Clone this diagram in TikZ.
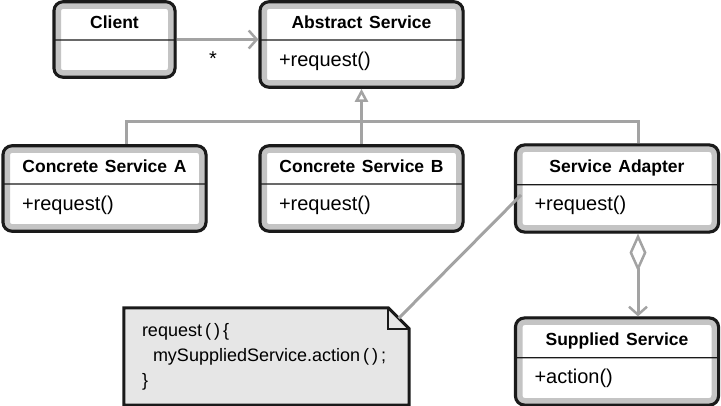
\documentclass[tikz,border=0pt]{standalone}
\usepackage{fontspec}
\setmainfont{Liberation Sans}
\usetikzlibrary{arrows.meta, positioning, calc, shapes.multipart, backgrounds}
\definecolor{umlLine}{HTML}{A3A3A3}
\definecolor{umlBand}{HTML}{C4C4C4}
\definecolor{umlNote}{HTML}{E6E6E6}
\definecolor{umlInk}{HTML}{1A1A1A}
\newcommand{\umltitle}[1]{\noindent\makebox[\hsize][c]{\fontsize{17.5}{22}\selectfont\bfseries #1\rule[-2pt]{0pt}{21pt}}}
\newcommand{\umlop}[1]{\noindent\hspace*{12pt}\rule[-13pt]{0pt}{30pt}#1}
\newcommand{\umlempty}{\noindent\rule[-3pt]{0pt}{20pt}}

\begin{document}
\begin{tikzpicture}[
  x=1pt, y=-1pt,
  every node/.style={font=\fontsize{20}{22}\selectfont},
  classbox/.style={rectangle split, rectangle split parts=2,
    draw=umlInk, line width=1.2pt, fill=white, rounded corners=10pt,
    inner xsep=8pt, inner ysep=8.5pt, text width=#1,
    path picture={
      \draw[umlBand, line width=16pt, rounded corners=10pt]
        (path picture bounding box.south west) rectangle (path picture bounding box.north east);
      \draw[umlInk, line width=5pt, rounded corners=10pt]
        (path picture bounding box.south west) rectangle (path picture bounding box.north east);}},
  classbox/.default=189pt,
  notebox/.style={text width=249pt, inner xsep=18pt, minimum height=97pt,
    align=left, font=\fontsize{18}{25}\selectfont},
  link/.style={draw=umlLine, line width=3pt},
  open head/.style={-{Straight Barb[length=8pt, width=18pt, line width=2.5pt]}}]
  \useasboundingbox (0,0) rectangle (721,406);
  % Classes
  \node[classbox=107pt] (client) at (114.5,39.5)
    {\umltitle{Client}\nodepart{two}\umlempty};
  \node[classbox] (abstract) at (361.5,44.5)
    {\umltitle{Abstract Service}\nodepart{two}\umlop{+request()}};
  \node[classbox] (concA) at (104.5,188.5)
    {\umltitle{Concrete Service A}\nodepart{two}\umlop{+request()}};
  \node[classbox] (concB) at (361.5,188.5)
    {\umltitle{Concrete Service B}\nodepart{two}\umlop{+request()}};
  \node[classbox] (adapter) at (617,188.5)
    {\umltitle{Service Adapter}\nodepart{two}\umlop{+request()}};
  \node[classbox] (supplied) at (617,361.5)
    {\umltitle{Supplied Service}\nodepart{two}\umlop{+action()}};
  % Note
  \node[notebox] (note) at (266.5,356.5)
    {request\,(\,)\,\{\\\hspace*{11pt}mySuppliedService.action\,(\,)\,;\\\}};
  \begin{scope}[on background layer]
    \filldraw[fill=umlNote, draw=umlInk, line width=3pt]
      (note.south west) -- (note.north west)
      -- ([xshift=-21pt]note.north east) coordinate (foldA)
      -- ([yshift=-21pt]note.north east) coordinate (foldB)
      -- (note.south east) -- cycle;
  \end{scope}
  \draw[umlInk, line width=2pt] (foldA) |- (foldB);
  % Association
  \draw[link, open head] (client.east) -- (client.east -| abstract.west);
  \node (mult) at (213,59) {*};
  % Generalization
  \coordinate (bus) at (361.5,122);
  \draw[link, -{Triangle[open, length=13pt, width=13pt, line width=2.5pt, fill=white]}]
    (concB.north) -- (abstract.south);
  \draw[link] ([xshift=22pt]concA.north) |- (bus) -| ([xshift=21pt]adapter.north);
  % Aggregation
  \draw[link, {Diamond[open, length=38pt, width=17pt, line width=2.5pt, fill=white]}-{Straight Barb[length=8pt, width=18pt, line width=2.5pt]}]
    ([xshift=21pt]adapter.south) -- ([xshift=21pt]supplied.north);
  % Note link
  \coordinate (reqpt) at (521,195);
  \draw[link] ($(foldA)!0.5!(foldB)$) -- (reqpt);
\end{tikzpicture}
\end{document}
